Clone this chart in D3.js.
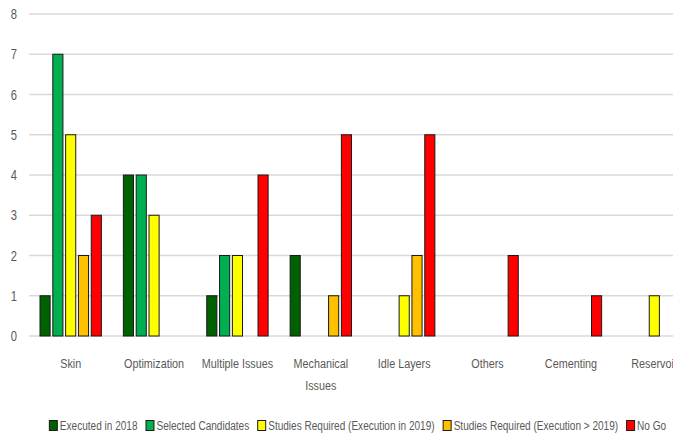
<!DOCTYPE html>
<html>
<head>
<meta charset="utf-8">
<script src="https://cdn.jsdelivr.net/npm/d3@7"></script>
<style>
  body { margin: 0; background: #fff; }
  svg text { font-family: "Liberation Sans", Arial, sans-serif; fill: #595959; }
</style>
</head>
<body>
<div id="chart"></div>
<script>
// categories and series
var categories = ["Skin", "Optimization", "Multiple Issues", "Mechanical Issues", "Idle Layers", "Others", "Cementing", "Reservoir"];
var seriesNames = ["Executed in 2018", "Selected Candidates", "Studies Required (Execution in 2019)", "Studies Required (Execution > 2019)", "No Go"];
var executed2018 = [1, 4, 1, 2, 0, 0, 0, 0];
var selectedCandidates = [7, 4, 2, 0, 0, 0, 0, 0];
var studies2019 = [5, 3, 2, 0, 1, 0, 0, 1];
var studiesAfter2019 = [2, 0, 0, 1, 2, 0, 0, 0];
var noGo = [3, 0, 4, 5, 5, 2, 1, 0];
var yTicks = [0, 1, 2, 3, 4, 5, 6, 7, 8];
var colors = ["#006100", "#00b050", "#ffff00", "#ffc000", "#ff0000"];

var allValues = [executed2018, selectedCandidates, studies2019, studiesAfter2019, noGo];

var width = 673, height = 437;
var margin = { top: 14, left: 29, bottom: 101 };
// plot area runs past the right edge, as in the original (Reservoir is cut off)
var plotRight = 696;

const svg = d3.select("#chart").append("svg")
    .attr("width", width)
    .attr("height", height);

// the original font is a narrow one, so squeeze the text horizontally
function narrowText(parent, px, py, str, size, anchor, k) {
    return parent.append("text")
        .attr("transform", "translate(" + px + "," + py + ") scale(" + k + ",1)")
        .attr("text-anchor", anchor || "start")
        .style("font-size", size + "px")
        .text(str);
}

const x = d3.scaleBand()
    .domain(categories)
    .range([margin.left, plotRight])
    .paddingInner(0)
    .paddingOuter(0);

const xInner = d3.scaleBand()
    .domain(d3.range(seriesNames.length))
    .range([11, x.bandwidth() - 11])
    .paddingInner(0.21);

const y = d3.scaleLinear()
    .domain([0, 8])
    .range([height - margin.bottom, margin.top]);

// gridlines
svg.append("g")
    .selectAll("line")
    .data(yTicks)
    .enter().append("line")
    .attr("x1", margin.left)
    .attr("x2", plotRight)
    .attr("y1", d => y(d))
    .attr("y2", d => y(d))
    .attr("stroke", "#d9d9d9")
    .attr("stroke-width", 1.3);

// y labels
const yLab = svg.append("g");
yTicks.forEach(t => {
    narrowText(yLab, 17, y(t) + 5, t, 14, "end", 0.8);
});

// bars
let groups = svg.selectAll("g.series")
    .data(allValues)
    .enter().append("g")
    .attr("class", "series")
    .style("fill", (d, i) => colors[i]);

groups.selectAll("rect")
    .data((d, i) => d.map((v, j) => ({ s: i, cat: categories[j], v: v })))
    .enter()
    .filter(d => d.v > 0)
    .append("rect")
    .attr("x", d => x(d.cat) + xInner(d.s))
    .attr("width", xInner.bandwidth())
    .attr("y", d => y(d.v))
    .attr("height", d => y(0) - y(d.v))
    .attr("stroke", "#1a1a1a")
    .attr("stroke-width", 1);

// category labels (Mechanical Issues wraps to two lines)
const xLab = svg.append("g");
categories.forEach(c => {
    const cx = x(c) + x.bandwidth() / 2;
    const lines = c === "Mechanical Issues" ? ["Mechanical", "Issues"] : [c];
    lines.forEach((l, i) => narrowText(xLab, cx, 368 + i * 22, l, 13.5, "middle", 0.8));
});

// legend
const legend = svg.append("g");
const legendCellSize = 8;
const legendSqueeze = 0.745;
let lx = 0;
seriesNames.forEach((name, i) => {
    legend.append("rect")
        .attr("x", lx + 0.5)
        .attr("y", -9.5)
        .attr("width", legendCellSize)
        .attr("height", legendCellSize + 2)
        .attr("fill", colors[i])
        .attr("stroke", "#1a1a1a");
    const txt = narrowText(legend, lx + legendCellSize + 3, 0, name, 13.5, "start", legendSqueeze);
    lx += legendCellSize + 3 + txt.node().getComputedTextLength() * legendSqueeze + 8;
});
const legendWidth = lx - 8;
legend.attr("transform", "translate(" + (357.5 - legendWidth / 2) + ",430)");
</script>
</body>
</html>
